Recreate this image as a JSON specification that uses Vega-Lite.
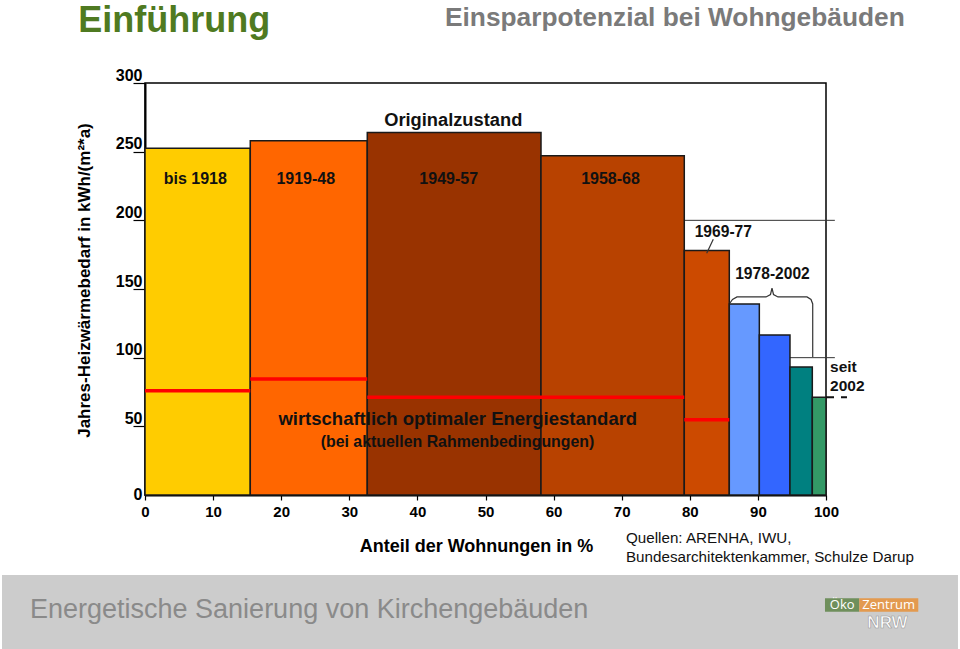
{
  "$schema": "https://vega.github.io/schema/vega-lite/v6.json",
  "width": 681,
  "height": 412,
  "autosize": {"type": "none"},
  "padding": {"left": 145, "top": 83, "right": 134, "bottom": 154},
  "background": "white",
  "config": {
    "view": {"stroke": "#000000", "strokeWidth": 1.5},
    "font": "Liberation Sans",
    "text": {"font": "Liberation Sans"}
  },
  "datasets": {
    "bars": [
      {"period": "bis 1918", "start": 0, "end": 15.46, "demand": 252.5},
      {"period": "1919-48", "start": 15.46, "end": 32.64, "demand": 258},
      {"period": "1949-57", "start": 32.64, "end": 58.15, "demand": 264},
      {"period": "1958-68", "start": 58.15, "end": 79.19, "demand": 247},
      {"period": "1969-77", "start": 79.19, "end": 85.8, "demand": 178},
      {"period": "1978-2002 (1)", "start": 85.8, "end": 90.21, "demand": 139},
      {"period": "1978-2002 (2)", "start": 90.21, "end": 94.71, "demand": 116.5},
      {"period": "1978-2002 (3)", "start": 94.71, "end": 97.99, "demand": 93.2},
      {"period": "seit 2002", "start": 97.99, "end": 100, "demand": 71.1}
    ],
    "optimum": [
      {"period": "bis 1918", "start": 0, "end": 15.46, "level": 76},
      {"period": "1919-48", "start": 15.46, "end": 32.64, "level": 84.5},
      {"period": "1949-68", "start": 32.64, "end": 79.19, "level": 71.1},
      {"period": "1969-77", "start": 79.19, "end": 85.8, "level": 54.8}
    ]
  },
  "layer": [
    {
      "data": {"values": [{"level": 100}, {"level": 200}]},
      "mark": {"type": "rule", "color": "#333333", "strokeWidth": 1},
      "encoding": {
        "x": {"datum": 0, "type": "quantitative", "scale": {"domain": [0, 100], "nice": false},
          "axis": {
            "title": "Anteil der Wohnungen in %",
            "values": [0, 10, 20, 30, 40, 50, 60, 70, 80, 90, 100],
            "grid": false,
            "domainColor": "#000000", "domainWidth": 2,
            "tickColor": "#000000", "tickSize": 5, "tickWidth": 1.2,
            "labelFont": "Liberation Sans", "labelFontSize": 15, "labelFontWeight": "bold", "labelColor": "#000000",
            "labelPadding": 4, "labelFlush": false, "labelOverlap": false, "labelBound": false,
            "titleFont": "Liberation Sans", "titleFontSize": 18, "titleFontWeight": "bold", "titleColor": "#000000",
            "titleX": 331, "titleY": 51, "titleBaseline": "middle", "titleAlign": "center"
          }
        },
        "x2": {"datum": 101.3},
        "y": {"field": "level", "type": "quantitative", "scale": {"domain": [0, 300], "nice": false},
          "axis": {
            "title": "Jahres-Heizwärmebedarf in kWh/(m²*a)",
            "values": [0, 50, 100, 150, 200, 250, 300],
            "grid": false,
            "domainColor": "#000000", "domainWidth": 2,
            "tickColor": "#000000", "tickSize": 12, "tickWidth": 1.2,
            "tickOpacity": {"condition": {"test": "datum.value === 0", "value": 0}, "value": 1},
            "labelFont": "Liberation Sans", "labelFontSize": 16, "labelFontWeight": "bold", "labelColor": "#000000",
            "labelPadding": -9, "labelAlign": "right", "labelBaseline": "middle",
            "labelOffset": {"condition": {"test": "datum.value === 0", "value": -1}, "value": -8},
            "labelOverlap": false, "labelBound": false,
            "titleFont": "Liberation Sans", "titleFontSize": 17, "titleFontWeight": "bold", "titleColor": "#000000",
            "titleAngle": -90, "titleX": -61, "titleY": 197, "titleBaseline": "middle", "titleAlign": "center"
          }
        }
      }
    },
    {
      "data": {"name": "bars"},
      "mark": {"type": "rect", "stroke": "#1a1a1a", "strokeWidth": 1.5},
      "encoding": {
        "x": {"field": "start", "type": "quantitative"},
        "x2": {"field": "end"},
        "y": {"field": "demand", "type": "quantitative"},
        "y2": {"datum": 0},
        "color": {
          "field": "period", "type": "nominal", "legend": null,
          "scale": {
            "domain": ["bis 1918", "1919-48", "1949-57", "1958-68", "1969-77", "1978-2002 (1)", "1978-2002 (2)", "1978-2002 (3)", "seit 2002"],
            "range": ["#ffcc00", "#ff6600", "#993300", "#b84200", "#cc4a00", "#6699ff", "#3366ff", "#008080", "#339966"]
          }
        }
      }
    },
    {
      "data": {"values": [{"part": "footer"}]},
      "mark": {"type": "rect", "color": "#cccccc"},
      "encoding": {
        "x": {"datum": -21.0, "type": "quantitative"},
        "x2": {"datum": 119.38},
        "y": {"datum": -58.25, "type": "quantitative"},
        "y2": {"datum": -112.14}
      }
    },
    {
      "data": {"name": "optimum"},
      "mark": {"type": "rule", "color": "#ff0000", "strokeWidth": 3.5},
      "encoding": {
        "x": {"field": "start", "type": "quantitative"},
        "x2": {"field": "end"},
        "y": {"field": "level", "type": "quantitative"}
      }
    },
    {
      "data": {"values": [
        {"seg": "brace", "i": 1, "x": 85.9, "y": 139.8},
        {"seg": "brace", "i": 2, "x": 86.27, "y": 142.4},
        {"seg": "brace", "i": 3, "x": 86.93, "y": 144.2},
        {"seg": "brace", "i": 4, "x": 91.19, "y": 144.2},
        {"seg": "brace", "i": 5, "x": 91.85, "y": 146.0},
        {"seg": "brace", "i": 6, "x": 92.07, "y": 150.7},
        {"seg": "brace", "i": 7, "x": 92.29, "y": 146.0},
        {"seg": "brace", "i": 8, "x": 92.95, "y": 144.2},
        {"seg": "brace", "i": 9, "x": 97.21, "y": 144.2},
        {"seg": "brace", "i": 10, "x": 97.8, "y": 142.4},
        {"seg": "brace", "i": 11, "x": 98.05, "y": 139.1},
        {"seg": "brace", "i": 12, "x": 98.05, "y": 100.5},
        {"seg": "pointer", "i": 1, "x": 82.48, "y": 176.0},
        {"seg": "pointer", "i": 2, "x": 83.45, "y": 186.2}
      ]},
      "mark": {"type": "line", "color": "#333333", "strokeWidth": 1.2},
      "encoding": {
        "x": {"field": "x", "type": "quantitative"},
        "y": {"field": "y", "type": "quantitative"},
        "detail": {"field": "seg"},
        "order": {"field": "i", "type": "quantitative"}
      }
    },
    {
      "data": {"values": [{"level": 71.1}]},
      "mark": {"type": "rule", "color": "#111111", "strokeWidth": 2, "strokeDash": [8, 7]},
      "encoding": {
        "x": {"datum": 100, "type": "quantitative"},
        "x2": {"datum": 103.08},
        "y": {"field": "level", "type": "quantitative"}
      }
    },
    {
      "data": {"values": [
        {"label": "bis 1918", "x": 7.39, "y": 230},
        {"label": "1919-48", "x": 23.61, "y": 230},
        {"label": "1949-57", "x": 44.6, "y": 230},
        {"label": "1958-68", "x": 68.36, "y": 230}
      ]},
      "mark": {"type": "text", "fontSize": 16, "fontWeight": "bold", "color": "#111111", "align": "center", "baseline": "middle"},
      "encoding": {
        "x": {"field": "x", "type": "quantitative"},
        "y": {"field": "y", "type": "quantitative"},
        "text": {"field": "label"}
      }
    },
    {
      "data": {"values": [{"label": "Originalzustand", "x": 45.26, "y": 272.6}]},
      "mark": {"type": "text", "fontSize": 18.3, "fontWeight": "bold", "color": "#111111", "align": "center", "baseline": "middle"},
      "encoding": {
        "x": {"field": "x", "type": "quantitative"},
        "y": {"field": "y", "type": "quantitative"},
        "text": {"field": "label"}
      }
    },
    {
      "data": {"values": [{"label": "wirtschaftlich optimaler Energiestandard", "x": 45.93, "y": 55.5}]},
      "mark": {"type": "text", "fontSize": 18.5, "fontWeight": "bold", "color": "#111111", "align": "center", "baseline": "middle"},
      "encoding": {
        "x": {"field": "x", "type": "quantitative"},
        "y": {"field": "y", "type": "quantitative"},
        "text": {"field": "label"}
      }
    },
    {
      "data": {"values": [{"label": "(bei aktuellen Rahmenbedingungen)", "x": 45.89, "y": 38.8}]},
      "mark": {"type": "text", "fontSize": 15.9, "fontWeight": "bold", "color": "#111111", "align": "center", "baseline": "middle"},
      "encoding": {
        "x": {"field": "x", "type": "quantitative"},
        "y": {"field": "y", "type": "quantitative"},
        "text": {"field": "label"}
      }
    },
    {
      "data": {"values": [
        {"label": "1969-77", "x": 84.92, "y": 191.8},
        {"label": "1978-2002", "x": 92.14, "y": 160.9}
      ]},
      "mark": {"type": "text", "fontSize": 15.6, "fontWeight": "bold", "color": "#111111", "align": "center", "baseline": "middle"},
      "encoding": {
        "x": {"field": "x", "type": "quantitative"},
        "y": {"field": "y", "type": "quantitative"},
        "text": {"field": "label"}
      }
    },
    {
      "data": {"values": [
        {"label": "seit", "x": 100.59, "y": 93.4},
        {"label": "2002", "x": 100.59, "y": 79.4}
      ]},
      "mark": {"type": "text", "fontSize": 15.5, "fontWeight": "bold", "color": "#111111", "align": "left", "baseline": "middle"},
      "encoding": {
        "x": {"field": "x", "type": "quantitative"},
        "y": {"field": "y", "type": "quantitative"},
        "text": {"field": "label"}
      }
    },
    {
      "data": {"values": [
        {"label": "Quellen:  ARENHA, IWU,", "x": 70.63, "y": -31.3},
        {"label": "Bundesarchitektenkammer, Schulze Darup", "x": 70.63, "y": -45.1}
      ]},
      "mark": {"type": "text", "fontSize": 15.2, "color": "#111111", "align": "left", "baseline": "middle"},
      "encoding": {
        "x": {"field": "x", "type": "quantitative"},
        "y": {"field": "y", "type": "quantitative"},
        "text": {"field": "label"}
      }
    },
    {
      "data": {"values": [{"label": "Einführung", "x": -9.79, "y": 337.4}]},
      "mark": {"type": "text", "fontSize": 36, "fontWeight": "bold", "color": "#4f7a21", "align": "left", "baseline": "alphabetic"},
      "encoding": {
        "x": {"field": "x", "type": "quantitative"},
        "y": {"field": "y", "type": "quantitative"},
        "text": {"field": "label"}
      }
    },
    {
      "data": {"values": [{"label": "Einsparpotenzial bei Wohngebäuden", "x": 44.05, "y": 341.5}]},
      "mark": {"type": "text", "fontSize": 26.3, "fontWeight": "bold", "color": "#7a7a7a", "align": "left", "baseline": "alphabetic"},
      "encoding": {
        "x": {"field": "x", "type": "quantitative"},
        "y": {"field": "y", "type": "quantitative"},
        "text": {"field": "label"}
      }
    },
    {
      "data": {"values": [{"label": "Energetische Sanierung von Kirchengebäuden", "x": -16.89, "y": -83.7}]},
      "mark": {"type": "text", "fontSize": 27, "color": "#8a8a8a", "align": "left", "baseline": "middle"},
      "encoding": {
        "x": {"field": "x", "type": "quantitative"},
        "y": {"field": "y", "type": "quantitative"},
        "text": {"field": "label"}
      }
    },
    {
      "data": {"values": [{"part": "Öko", "x": 99.85, "x2": 104.89, "y": -75.2, "y2": -85.0}]},
      "mark": {"type": "rect", "color": "#6f8f5c"},
      "encoding": {
        "x": {"field": "x", "type": "quantitative"},
        "x2": {"field": "x2"},
        "y": {"field": "y", "type": "quantitative"},
        "y2": {"field": "y2"}
      }
    },
    {
      "data": {"values": [{"part": "Zentrum", "x": 104.89, "x2": 113.55, "y": -75.2, "y2": -85.0}]},
      "mark": {"type": "rect", "color": "#e39a4f"},
      "encoding": {
        "x": {"field": "x", "type": "quantitative"},
        "x2": {"field": "x2"},
        "y": {"field": "y", "type": "quantitative"},
        "y2": {"field": "y2"}
      }
    },
    {
      "data": {"values": [
        {"label": "Öko", "x": 102.37, "y": -80.1},
        {"label": "Zentrum", "x": 109.2, "y": -80.1}
      ]},
      "mark": {"type": "text", "fontSize": 13, "color": "#ffffff", "align": "center", "baseline": "middle", "font": "Open Sans"},
      "encoding": {
        "x": {"field": "x", "type": "quantitative"},
        "y": {"field": "y", "type": "quantitative"},
        "text": {"field": "label"}
      }
    },
    {
      "data": {"values": [{"label": "NRW", "x": 109.03, "y": -93.2}]},
      "mark": {"type": "text", "fontSize": 17, "fontWeight": "bold", "color": "#ffffff", "stroke": "#9a9a9a", "strokeWidth": 0.6, "align": "center", "baseline": "middle"},
      "encoding": {
        "x": {"field": "x", "type": "quantitative"},
        "y": {"field": "y", "type": "quantitative"},
        "text": {"field": "label"}
      }
    }
  ]
}
